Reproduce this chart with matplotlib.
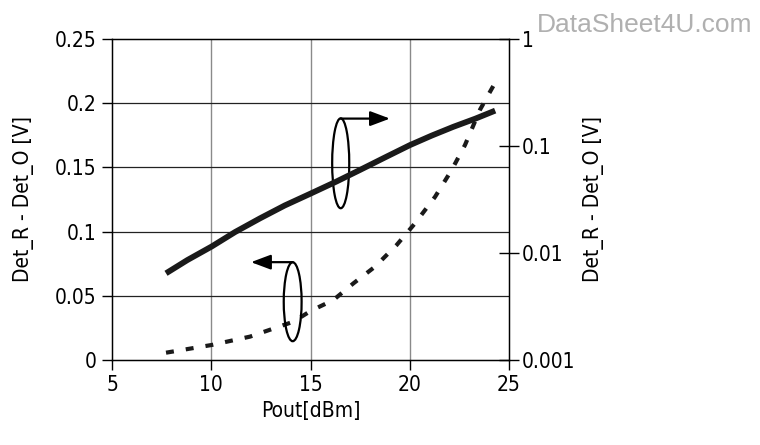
import matplotlib
matplotlib.use("Agg")
import matplotlib.pyplot as plt
from matplotlib.patches import Ellipse
from matplotlib.ticker import FixedLocator, NullLocator

plt.rcParams['font.family'] = ['Liberation Sans Narrow', 'DejaVu Sans']
plt.rcParams['font.stretch'] = 'condensed'

# Data
pout_log = [7.72, 8.8, 10.02, 11.2, 12.46, 13.7, 15.03, 16.3, 17.49, 18.8, 20.01, 21.1, 22.19, 23.3, 24.3]
det_log = [0.00646, 0.0086, 0.0115, 0.0157, 0.0211, 0.0278, 0.0361, 0.0465, 0.0597, 0.079, 0.102, 0.125, 0.151, 0.180, 0.214]

pout_lin = [7.72, 10.02, 11.95, 14.13, 15.03, 16.15, 17.16, 18.25, 19.34, 20.26, 21.27, 22.11, 22.78, 23.54, 24.3]
det_lin = [0.0057, 0.0117, 0.0182, 0.0298, 0.0384, 0.0467, 0.0597, 0.0727, 0.0896, 0.1064, 0.127, 0.148, 0.1674, 0.195, 0.216]

x_ticks = [5, 10, 15, 20, 25]
left_ticks = [0, 0.05, 0.1, 0.15, 0.2, 0.25]
left_labels = ['0', '0.05', '0.1', '0.15', '0.2', '0.25']
right_ticks = [0.001, 0.01, 0.1, 1]
right_labels = ['0.001', '0.01', '0.1', '1']

fig = plt.figure(figsize=(7.6, 4.45), dpi=100)
ax = fig.add_axes([0.1474, 0.191, 0.5224, 0.7214])
ax2 = ax.twinx()

fs = 15
ax.set_xlim(5, 25)
ax.set_ylim(0, 0.25)
ax.set_xticks(x_ticks)
ax.set_xticklabels([str(t) for t in x_ticks], fontsize=fs)
ax.set_yticks(left_ticks)
ax.set_yticklabels(left_labels, fontsize=fs)
ax.tick_params(axis='both', direction='out', length=7, width=1, color='black', pad=4)
for s in ax.spines.values():
    s.set_linewidth(1.0)
    s.set_color('black')

# grid
for xv in x_ticks[1:-1]:
    ax.axvline(xv, color='#8a8a8a', lw=1.0, zorder=0)
for yv in left_ticks[1:-1]:
    ax.axhline(yv, color='#222222', lw=0.9, zorder=0)

ax.plot(pout_lin, det_lin, color='#1a1a1a', lw=3.0, linestyle=(0, (1.9, 2.9)), zorder=3)

ax2.set_yscale('log')
ax2.set_ylim(0.001, 1)
ax2.yaxis.set_major_locator(FixedLocator(right_ticks))
ax2.yaxis.set_minor_locator(NullLocator())
ax2.set_yticklabels(right_labels, fontsize=fs)
ax2.tick_params(axis='y', direction='inout', length=14, width=1, color='black', pad=2)
ax2.plot(pout_log, det_log, color='#1a1a1a', lw=4.2, solid_capstyle='butt', solid_joinstyle='round', zorder=3)

ax.set_xlabel('Pout[dBm]', fontsize=fs, labelpad=4)
ax.set_ylabel('Det_R - Det_O [V]', fontsize=fs, labelpad=15)
ax2.set_ylabel('Det_R - Det_O [V]', fontsize=fs, labelpad=6)

# annotations (ellipses with arrows)
e1 = Ellipse((16.52, 0.1532), 0.86, 0.070, fill=False, edgecolor='black', lw=1.6, zorder=4)
ax.add_patch(e1)
ax.annotate('', xy=(19.0, 0.188), xytext=(16.52, 0.188),
            arrowprops=dict(arrowstyle='-|>,head_length=1.2,head_width=0.45', color='black', lw=1.6,
                            shrinkA=0, shrinkB=0), zorder=5)
e2 = Ellipse((14.1, 0.0454), 0.9, 0.0615, fill=False, edgecolor='black', lw=1.6, zorder=4)
ax.add_patch(e2)
ax.annotate('', xy=(12.0, 0.0762), xytext=(14.1, 0.0762),
            arrowprops=dict(arrowstyle='-|>,head_length=1.2,head_width=0.45', color='black', lw=1.6,
                            shrinkA=0, shrinkB=0), zorder=5)

fig.text(0.7066, 0.928, 'DataSheet4U.com', ha='left', va='baseline', fontsize=19, color='#b0b0b0',
         family=['Liberation Sans', 'DejaVu Sans'], stretch='normal')

fig.savefig('out.png', dpi=100)
